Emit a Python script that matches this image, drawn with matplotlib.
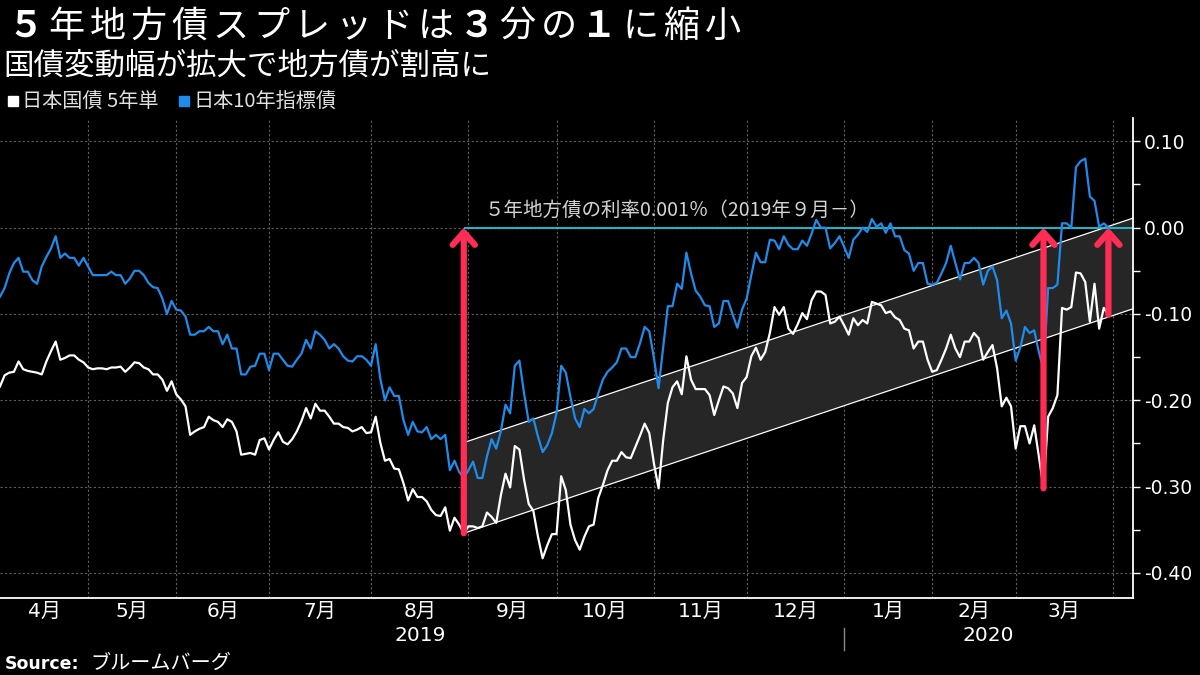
import matplotlib.pyplot as plt
import matplotlib.patches as patches
import matplotlib.transforms as transforms
import numpy as np

plt.rcParams['font.family'] = ['DejaVu Sans', 'Noto Sans CJK JP']

# trading days from early April 2019 to end of March 2020
days = np.arange(1, 241)

# 日本国債 5年 (white)
jgb5 = [
    -0.184, -0.171, -0.168, -0.167, -0.155, -0.164, -0.166, -0.167, -0.168, -0.170,
    -0.155, -0.143, -0.132, -0.153, -0.151, -0.148, -0.148, -0.153, -0.156, -0.162,
    -0.164, -0.163, -0.163, -0.164, -0.162, -0.162, -0.161, -0.167, -0.162, -0.156,
    -0.157, -0.162, -0.164, -0.170, -0.170, -0.176, -0.189, -0.178, -0.193, -0.199,
    -0.207, -0.240, -0.236, -0.233, -0.231, -0.219, -0.223, -0.225, -0.231, -0.222,
    -0.225, -0.236, -0.263, -0.262, -0.261, -0.263, -0.246, -0.244, -0.257, -0.246,
    -0.237, -0.248, -0.251, -0.245, -0.236, -0.224, -0.209, -0.221, -0.204, -0.212,
    -0.212, -0.219, -0.227, -0.227, -0.231, -0.232, -0.236, -0.234, -0.231, -0.238,
    -0.237, -0.219, -0.249, -0.270, -0.268, -0.279, -0.280, -0.296, -0.316, -0.303,
    -0.312, -0.312, -0.317, -0.327, -0.333, -0.334, -0.324, -0.351, -0.336, -0.344,
    -0.354, -0.346, -0.346, -0.348, -0.346, -0.330, -0.335, -0.342, -0.310, -0.285,
    -0.301, -0.253, -0.257, -0.292, -0.320, -0.328, -0.358, -0.383, -0.368, -0.355,
    -0.355, -0.288, -0.304, -0.344, -0.362, -0.373, -0.358, -0.346, -0.344, -0.313,
    -0.298, -0.281, -0.270, -0.270, -0.260, -0.266, -0.267, -0.254, -0.241, -0.227,
    -0.238, -0.273, -0.302, -0.246, -0.203, -0.185, -0.178, -0.193, -0.149, -0.176,
    -0.187, -0.187, -0.187, -0.194, -0.217, -0.200, -0.184, -0.186, -0.192, -0.209,
    -0.180, -0.173, -0.149, -0.139, -0.153, -0.144, -0.122, -0.092, -0.101, -0.092,
    -0.117, -0.123, -0.112, -0.099, -0.106, -0.084, -0.074, -0.074, -0.078, -0.111,
    -0.109, -0.103, -0.113, -0.124, -0.105, -0.113, -0.107, -0.111, -0.086, -0.088,
    -0.090, -0.099, -0.097, -0.104, -0.107, -0.117, -0.119, -0.140, -0.132, -0.132,
    -0.153, -0.167, -0.165, -0.153, -0.140, -0.124, -0.140, -0.150, -0.132, -0.132,
    -0.122, -0.128, -0.153, -0.144, -0.136, -0.163, -0.207, -0.197, -0.207, -0.256,
    -0.230, -0.230, -0.250, -0.229, -0.265, -0.302, -0.219, -0.209, -0.194, -0.093,
    -0.095, -0.092, -0.052, -0.053, -0.063, -0.109, -0.065, -0.117, -0.093, -0.101,
]

# 日本10年指標債 (blue)
jgb10 = [
    -0.080, -0.070, -0.053, -0.041, -0.035, -0.051, -0.051, -0.061, -0.065, -0.045,
    -0.034, -0.024, -0.010, -0.035, -0.030, -0.035, -0.035, -0.044, -0.035, -0.045,
    -0.055, -0.055, -0.055, -0.055, -0.051, -0.055, -0.055, -0.065, -0.059, -0.050,
    -0.050, -0.055, -0.064, -0.069, -0.070, -0.082, -0.100, -0.085, -0.095, -0.096,
    -0.103, -0.124, -0.124, -0.120, -0.120, -0.115, -0.120, -0.120, -0.135, -0.124,
    -0.140, -0.140, -0.170, -0.170, -0.161, -0.160, -0.146, -0.146, -0.165, -0.146,
    -0.146, -0.153, -0.160, -0.161, -0.153, -0.146, -0.130, -0.140, -0.120, -0.124,
    -0.130, -0.140, -0.135, -0.140, -0.149, -0.154, -0.155, -0.149, -0.149, -0.153,
    -0.160, -0.135, -0.175, -0.200, -0.185, -0.195, -0.195, -0.223, -0.240, -0.225,
    -0.236, -0.237, -0.231, -0.245, -0.240, -0.245, -0.240, -0.281, -0.270, -0.283,
    -0.290, -0.281, -0.271, -0.290, -0.290, -0.265, -0.245, -0.256, -0.236, -0.205,
    -0.215, -0.160, -0.154, -0.192, -0.225, -0.221, -0.242, -0.260, -0.252, -0.238,
    -0.215, -0.160, -0.168, -0.196, -0.221, -0.231, -0.210, -0.215, -0.210, -0.192,
    -0.176, -0.167, -0.162, -0.156, -0.140, -0.140, -0.150, -0.150, -0.134, -0.115,
    -0.120, -0.151, -0.186, -0.138, -0.091, -0.091, -0.065, -0.071, -0.029, -0.053,
    -0.073, -0.080, -0.090, -0.091, -0.115, -0.111, -0.085, -0.085, -0.101, -0.116,
    -0.095, -0.082, -0.055, -0.029, -0.040, -0.040, -0.014, -0.015, -0.025, -0.010,
    -0.020, -0.025, -0.025, -0.015, -0.021, -0.007, 0.009, 0.000, 0.000, -0.024,
    -0.018, -0.010, -0.022, -0.035, -0.014, -0.008, 0.000, -0.005, 0.010, 0.001,
    0.005, -0.006, 0.005, -0.010, -0.010, -0.026, -0.030, -0.050, -0.041, -0.041,
    -0.065, -0.066, -0.064, -0.053, -0.041, -0.021, -0.041, -0.060, -0.041, -0.041,
    -0.035, -0.041, -0.066, -0.050, -0.045, -0.061, -0.105, -0.096, -0.111, -0.154,
    -0.139, -0.115, -0.122, -0.119, -0.144, -0.165, -0.070, -0.070, -0.066, 0.005,
    0.005, 0.000, 0.070, 0.077, 0.080, 0.036, 0.031, 0.001, 0.005, 0.000,
]

# first trading day of each month (index in days), May 2019 .. Apr 2020
month_starts = [20, 39, 59, 81, 102, 121, 142, 162, 183, 202, 220, 241]
month_labels = ['4月', '5月', '6月', '7月', '8月', '9月', '10月', '11月',
                '12月', '1月', '2月', '3月']
year_labels = ['2019', '2020']
year_pos = [91.5, 214]
year_split = 183

yticks = [0.10, 0.00, -0.10, -0.20, -0.30, -0.40]

# spread channel drawn on the chart
band_x = [101, 245.3]
band_low = [-0.354, -0.094]
band_high = [-0.249, 0.011]
muni_rate = 0.0
muni_start = 101
arrow_x = [101, 226, 240]
arrow_from = [-0.354, -0.302, -0.101]

BLUE = '#1f8beb'
PINK = '#ff2d55'
CYAN = '#12cbdc'

fig = plt.figure(figsize=(12, 6.75), dpi=100, facecolor='black')
ax = fig.add_axes([0, 1 - 598 / 675, 1133 / 1200, 480 / 675])
ax.set_facecolor('black')
ax.set_xlim(1, 245.3)
ax.set_ylim(-0.429, 0.127)

# channel
poly = patches.Polygon([(band_x[0], band_low[0]), (band_x[1], band_low[1]),
                        (band_x[1], band_high[1]), (band_x[0], band_high[0])],
                       closed=True, fc='#262626', ec='none', zorder=1)
ax.add_patch(poly)
ax.plot(band_x, band_low, color='white', lw=0.9, zorder=2)
ax.plot(band_x, band_high, color='white', lw=0.9, zorder=2)
ax.hlines(muni_rate, muni_start, 245.3, color=CYAN, lw=1.3, zorder=2)

ax.plot(days, jgb10, color=BLUE, lw=1.6, zorder=3)
ax.plot(days, jgb5, color='white', lw=1.6, zorder=4)

for x, y0 in zip(arrow_x, arrow_from):
    ax.annotate('', xy=(x, muni_rate), xytext=(x, y0),
                arrowprops=dict(arrowstyle='->, head_length=0.9, head_width=0.8',
                                lw=4.5, color=PINK, shrinkA=0, shrinkB=0),
                zorder=6)

ax.text(105.5, 0.0136, '５年地方債の利率0.001％（2019年９月－）', color='#d4d4d4',
        fontsize=14, family=['Noto Sans CJK JP'], va='baseline', ha='left', zorder=5)

# axes styling
for s in ['left', 'top']:
    ax.spines[s].set_visible(False)
ax.spines['right'].set_color('white')
ax.spines['bottom'].set_color('white')
ax.spines['right'].set_linewidth(1.3)
ax.spines['bottom'].set_linewidth(1.3)

ax.yaxis.tick_right()
ax.set_yticks(yticks)
ax.set_yticklabels([f'{v:.2f}' for v in yticks])
ax.set_yticks([0.05, -0.05, -0.15, -0.25, -0.35], minor=True)
ax.tick_params(axis='y', which='both', colors='white', length=5, width=1, pad=3,
               labelsize=13.5, direction='out')

mids = []
prev = 1
for m in month_starts:
    mids.append((prev + m) / 2)
    prev = m
ax.set_xticks(month_starts)
ax.set_xticklabels([])
ax.set_xticks(mids, month_labels, minor=True)
ax.tick_params(axis='x', which='both', length=0, colors='white', labelsize=14.5, pad=3)

ax.grid(True, which='major', color='#5e5e5e', linestyle=(0, (2, 2)), lw=0.8)
ax.set_axisbelow(True)

trans = transforms.blended_transform_factory(ax.transData, ax.transAxes)
for x, t in zip(year_pos, year_labels):
    ax.text(x, -0.079, t, transform=trans, color='white', fontsize=14.5,
            ha='center', va='center')
ax.plot([year_split, year_split], [-0.062, -0.108], transform=trans,
        color='#8a8a8a', lw=1, clip_on=False)

# title, per character on a fixed pitch
title = '５年地方債スプレッドは３分の１に縮小'
for k, ch in enumerate(title):
    bold = ch in '５３１'
    fig.text((5 + 41 * k + 20.5) / 1200, 1 - 37 / 675, ch, color='white',
             fontsize=26, family=['Noto Sans CJK JP'],
             weight='bold' if bold else 'normal', ha='center', va='baseline')

fig.text(3 / 1200, 1 - 75 / 675, '国債変動幅が拡大で地方債が割高に', color='white',
         fontsize=22, family=['Noto Sans CJK JP'], ha='left', va='baseline')

# legend
fig.add_artist(patches.Rectangle((8 / 1200, 1 - 106 / 675), 10 / 1200, 10 / 675,
                                 transform=fig.transFigure, color='white'))
fig.text(22 / 1200, 1 - 108 / 675, '日本国債 5年単', color='#e0e0e0', fontsize=14.5,
         family=['Noto Sans CJK JP'], va='baseline')
fig.add_artist(patches.Rectangle((179 / 1200, 1 - 106 / 675), 10 / 1200, 10 / 675,
                                 transform=fig.transFigure, color=BLUE))
fig.text(193 / 1200, 1 - 108 / 675, '日本10年指標債', color='#e0e0e0', fontsize=14.5,
         family=['Noto Sans CJK JP'], va='baseline')

fig.text(5 / 1200, 1 - 669 / 675, 'Source:', color='white', fontsize=12.5,
         weight='bold', family=['DejaVu Sans'], va='baseline')
fig.text(90 / 1200, 1 - 669 / 675, 'ブルームバーグ', color='white', fontsize=14.5,
         family=['Noto Sans CJK JP'], va='baseline')

fig.savefig('out.png', dpi=100, facecolor='black')
